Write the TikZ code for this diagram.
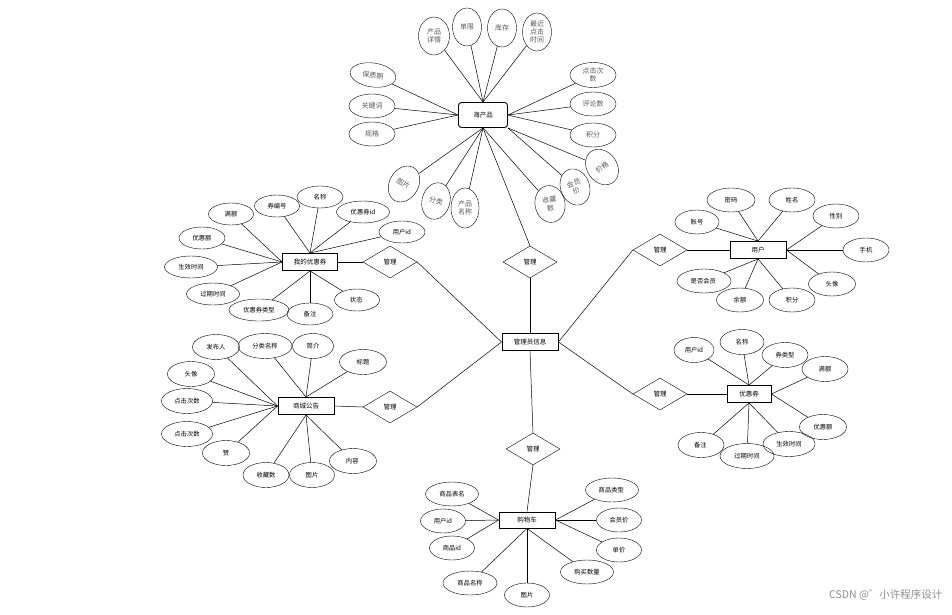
\documentclass[tikz,border=0pt]{standalone}
\usepackage{fontspec}
\setmainfont{Liberation Sans}
\newfontfamily\cjk{Noto Sans CJK SC}
\usetikzlibrary{shapes.geometric}

\tikzset{
  attr/.style={draw, ellipse, inner sep=0pt, align=center,
    font=\cjk\fontsize{6.3}{7}\selectfont},
  seaattr/.style={attr, text=black!65, font=\cjk\fontsize{7}{8}\selectfont},
  ent/.style={draw, line width=0.9pt, rectangle, inner sep=0pt,
    minimum width=56pt, minimum height=17pt, font=\cjk\fontsize{6.5}{7}\selectfont},
  rel/.style={draw, diamond, inner sep=0pt, minimum width=54pt,
    minimum height=32pt, font=\cjk\fontsize{6.5}{7}\selectfont},
  link/.style={draw, line width=0.5pt},
}

\begin{document}
\begin{tikzpicture}[x=1pt, y=-1pt]
  \useasboundingbox (0,0) rectangle (952,615);

  % ── Entities and relations ────────────────────────────────
  \node[ent, rounded corners=3pt, minimum width=49pt, minimum height=25pt] (sp) at (483,115) {海产品};
  \node[ent] (ad) at (530,342) {管理员信息};
  \node[ent, minimum width=55pt] (mc) at (310,262) {我的优惠券};
  \node[ent] (sa) at (306,406) {商城公告};
  \node[ent] (us) at (758,250) {用户};
  \node[ent, minimum width=44pt] (cp) at (749,394) {优惠券};
  \node[ent, minimum height=16pt] (ct) at (527,520) {购物车};

  \node[rel] (r1) at (530,262) {管理};
  \node[rel] (r2) at (390,262) {管理};
  \node[rel] (r3) at (390,407) {管理};
  \node[rel] (r4) at (660,250) {管理};
  \node[rel] (r5) at (660,394) {管理};
  \node[rel] (r6) at (533,449) {管理};

  \draw[link] (sp.south) -- (r1.north);
  \draw[link] (r1.south) -- (ad.north);
  \draw[link] (mc.east) -- (r2.west);
  \draw[link] (r2.east) -- (ad.west);
  \draw[link] (sa.east) -- (r3.west);
  \draw[link] (r3.east) -- (ad.west);
  \draw[link] (ad.east) -- (r4.west);
  \draw[link] (r4.east) -- (us.west);
  \draw[link] (ad.east) -- (r5.west);
  \draw[link] (r5.east) -- (cp.west);
  \draw[link] (ad.south) -- (r6.north);
  \draw[link] (r6.south) -- (ct.north);

  % ── 海产品 attributes ──────────────────────────────────────
  \foreach \x/\y/\w/\h/\r/\a/\lbl [count=\i] in {
    434/36/31/38/0/north/{产品\\详情},
    467/27/29/38/0/north/{单限},
    502/28/29/38/0/north/{库存},
    537/32/29/38/0/north/{最近\\点击\\时间},
    373/75/46/24/-8/west/{保质期},
    372/106/46/24/0/west/{关键词},
    372/134/46/24/0/west/{规格},
    593/75/46/25/0/east/{点击次\\数},
    593/104/46/24/0/east/{评论数},
    593/135/46/24/0/east/{积分},
    602/167/30/38/35/south east/{价格},
    575/187/29/37/20/south east/{会员\\价},
    550/204/30/37/10/south/{收藏\\数},
    465/208/28/40/0/south/{产品\\名称},
    436/201/28/37/-15/south/{分类},
    404/184/29/38/-30/south/{图片}
  }{
    \node[seaattr, minimum width=\w pt, minimum height=\h pt, rotate=\r] (sp\i) at (\x,\y) {\lbl};
    \draw[link] (sp\i) -- (sp.\a);
  }

  % ── 我的优惠券 attributes ──────────────────────────────────
  \foreach \x/\y/\w/\a/\lbl [count=\i] in {
    231/214/45/west/{满额},
    277/206/45/north/{券编号},
    320/197/46/north/{名称},
    363/212/53/north/{优惠券id},
    402/232/46/north/{用户id},
    202/238/46/west/{优惠额},
    191/267/53/west/{生效时间},
    213/294/53/west/{过期时间},
    259/310/60/south/{优惠券类型},
    310/314/46/south/{备注},
    357/300/45/south/{状态}
  }{
    \node[attr, minimum width=\w pt, minimum height=22pt] (mc\i) at (\x,\y) {\lbl};
    \draw[link] (mc\i) -- (mc.\a);
  }

  % ── 商城公告 attributes ────────────────────────────────────
  \foreach \x/\y/\w/\a/\lbl [count=\i] in {
    216/347/47/west/{发布人},
    265/346/54/north/{分类名称},
    313/346/41/north/{简介},
    363/362/47/north/{标题},
    191/374/47/west/{头像},
    187/401/51/west/{点击次数},
    187/434/51/west/{点击次数},
    226/453/47/west/{赞},
    266/475/46/south/{收藏数},
    312/475/45/south/{图片},
    353/461/47/south/{内容}
  }{
    \node[attr, minimum width=\w pt, minimum height=25pt] (sa\i) at (\x,\y) {\lbl};
    \draw[link] (sa\i) -- (sa.\a);
  }

  % ── 用户 attributes ───────────────────────────────────────
  \foreach \x/\y/\w/\a/\lbl [count=\i] in {
    731/200/48/north/{密码},
    792/200/46/north/{姓名},
    697/222/44/north/{账号},
    836/216/46/east/{性别},
    866/250/46/east/{手机},
    832/284/47/east/{头像},
    792/300/46/south/{积分},
    740/300/47/south/{余额},
    704/281/54/south/{是否会员}
  }{
    \node[attr, minimum width=\w pt, minimum height=24pt] (us\i) at (\x,\y) {\lbl};
    \draw[link] (us\i) -- (us.\a);
  }

  % ── 优惠券 attributes ─────────────────────────────────────
  \foreach \x/\y/\w/\a/\lbl [count=\i] in {
    694/350/40/north/{用户id},
    742/342/44/north/{名称},
    785/355/46/north/{券类型},
    825/369/46/east/{满额},
    823/427/47/east/{优惠额},
    789/444/52/south/{生效时间},
    747/456/54/south/{过期时间},
    701/445/46/south/{备注}
  }{
    \node[attr, minimum width=\w pt, minimum height=25pt] (cp\i) at (\x,\y) {\lbl};
    \draw[link] (cp\i) -- (cp.\a);
  }

  % ── 购物车 attributes ─────────────────────────────────────
  \foreach \x/\y/\w/\a/\lbl [count=\i] in {
    452/494/53/west/{商品表名},
    443/521/45/west/{用户id},
    452/548/45/west/{商品id},
    470/583/54/south/{商品名称},
    527/595/45/south/{图片},
    587/572/53/south/{购买数量},
    619/550/45/east/{单价},
    619/520/45/east/{会员价},
    612/490/53/east/{商品类型}
  }{
    \node[attr, minimum width=\w pt, minimum height=24pt] (ct\i) at (\x,\y) {\lbl};
    \draw[link] (ct\i) -- (ct.\a);
  }

  % ── Watermark ─────────────────────────────────────────────
  \node[text=black!45, font=\cjk\fontsize{10.5}{12}\selectfont, anchor=east] (wm) at (946,595) {CSDN @゛小许程序设计};
\end{tikzpicture}
\end{document}
